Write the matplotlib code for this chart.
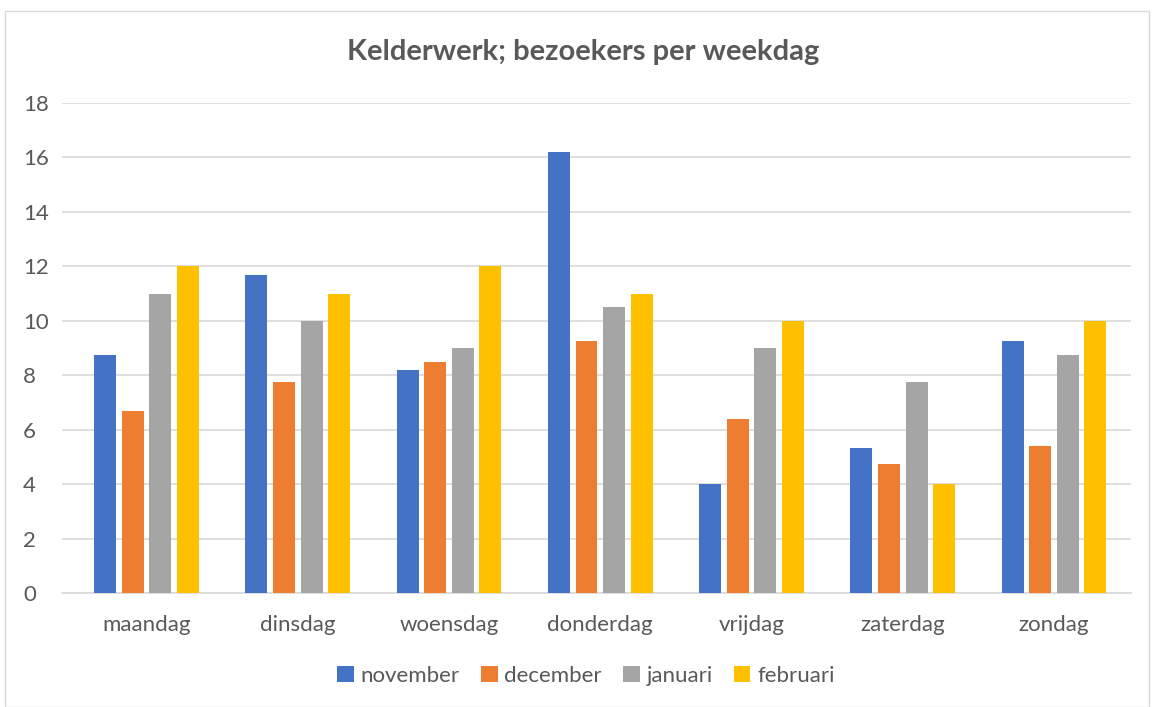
import matplotlib
matplotlib.use('Agg')
import matplotlib.pyplot as plt
import numpy as np
from matplotlib.patches import Rectangle

plt.rcParams['font.family'] = ['Lato', 'DejaVu Sans']

days = ['maandag', 'dinsdag', 'woensdag', 'donderdag', 'vrijdag', 'zaterdag', 'zondag']
months = ['november', 'december', 'januari', 'februari']
november = [8.75, 11.67, 8.2, 16.2, 4, 5.33, 9.25]
december = [6.67, 7.75, 8.5, 9.25, 6.4, 4.75, 5.4]
januari = [11, 10, 9, 10.5, 9, 7.75, 8.75]
februari = [12, 11, 12, 11, 10, 4, 10]

series = [november, december, januari, februari]
colors = ['#4472C4', '#ED7D31', '#A5A5A5', '#FFC000']
text_col = '#595959'

fig = plt.figure(figsize=(11.52, 7.07), dpi=100)
ax = fig.add_axes([62/1152, 1 - 593/707, (1131-62)/1152, (593-103)/707])

x = np.arange(len(days))
width = 0.145
step = 0.1825
for i, (vals, col, name) in enumerate(zip(series, colors, months)):
    ax.bar(x + (i - 1.5) * step, vals, width, color=col, label=name, zorder=3)

ax.set_xlim(-0.559, 6.509)
ax.set_ylim(0, 18)
ax.set_yticks(range(0, 19, 2))
ax.set_xticks(x)
ax.set_xticklabels(days)
ax.tick_params(length=0, labelsize=16, colors=text_col)
ax.tick_params(axis='x', pad=16)
ax.tick_params(axis='y', pad=28)
for lab in ax.get_yticklabels():
    lab.set_horizontalalignment('left')
ax.grid(axis='y', color='#d9d9d9', linewidth=1.2, zorder=0)
for s in ['top', 'right', 'left']:
    ax.spines[s].set_visible(False)
ax.spines['bottom'].set_color('#d9d9d9')
ax.spines['bottom'].set_linewidth(1.2)

fig.text(583/1152, 1 - 52/707, 'Kelderwerk; bezoekers per weekdag', ha='center', va='center',
         fontsize=21, fontweight='bold', color=text_col)

fig.legend(loc='center', bbox_to_anchor=(586/1152, 1 - 676/707), ncol=4, frameon=False,
           fontsize=16, labelcolor=text_col, handlelength=0.75, handleheight=0.75,
           handletextpad=0.3, columnspacing=0.95)

fig.patches.append(Rectangle((5/1152, 0), 1144/1152, 1 - 11/707, transform=fig.transFigure,
                             fill=False, edgecolor='#d9d9d9', linewidth=1))

fig.savefig('out.png', dpi=100)
